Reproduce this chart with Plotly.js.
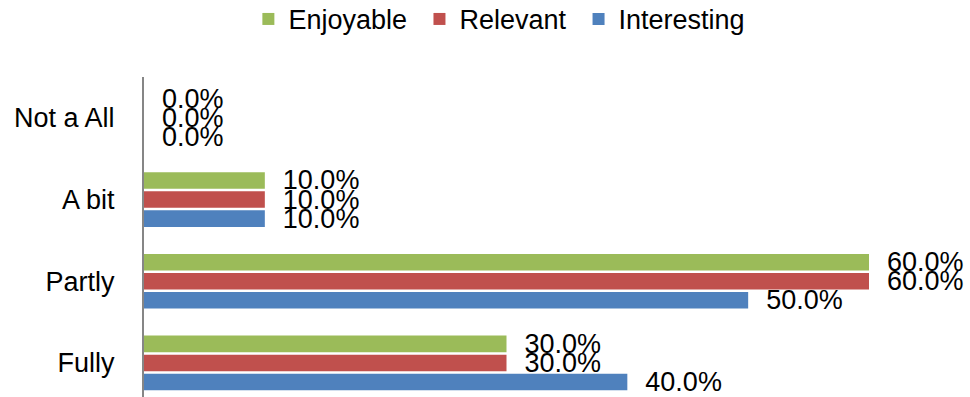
<!DOCTYPE html>
<html>
<head>
<meta charset="utf-8">
<script src="https://cdn.plot.ly/plotly-3.0.1.min.js"></script>
<style>html,body{margin:0;padding:0;background:#fff}#chart{width:970px;height:397px}</style>
</head>
<body>
<div id="chart"></div>
<script>
const categories = ['Fully', 'Partly', 'A bit', 'Not a All'];
const interesting = [0.40, 0.50, 0.10, 0.00];
const relevant = [0.30, 0.60, 0.10, 0.00];
const enjoyable = [0.30, 0.60, 0.10, 0.00];
const seriesNames = ['Interesting', 'Relevant', 'Enjoyable'];
const seriesColors = ['#4F81BD', '#C0504D', '#9BBB59'];
const seriesValues = [interesting, relevant, enjoyable];

const FONT = 'Liberation Sans, Arial, sans-serif';

const traces = seriesValues.map((vals, i) => ({
  type: 'bar',
  orientation: 'h',
  name: seriesNames[i] + '\u00a0',
  y: categories,
  x: vals,
  marker: {color: seriesColors[i], line: {width: 0}},
  texttemplate: '\u00a0\u00a0%{x:.1%}',
  textposition: 'outside',
  constraintext: 'none',
  cliponaxis: false,
  textfont: {family: FONT, size: 27, color: '#000'},
  hoverinfo: 'none'
}));

const layout = {
  width: 970,
  height: 397,
  margin: {l: 144, r: 101, t: 77, b: 0, pad: 0, autoexpand: false},
  paper_bgcolor: '#fff',
  plot_bgcolor: '#fff',
  barmode: 'group',
  bargap: 0.30,
  bargroupgap: 0.13,
  font: {family: FONT, size: 27, color: '#000'},
  showlegend: true,
  legend: {
    orientation: 'h',
    traceorder: 'reversed',
    x: 0.495, xref: 'paper', xanchor: 'center',
    y: 1.18, yref: 'paper', yanchor: 'middle',
    font: {family: FONT, size: 27, color: '#000'},
    itemwidth: 30
  },
  xaxis: {
    range: [0, 0.6],
    showgrid: false,
    zeroline: false,
    showticklabels: false,
    showline: false,
    ticks: ''
  },
  yaxis: {
    type: 'category',
    range: [-0.417, 3.5],
    showgrid: false,
    zeroline: false,
    showline: true,
    linecolor: '#868686',
    linewidth: 2,
    ticks: '',
    ticklabelstandoff: 22,
    automargin: false,
    tickfont: {family: FONT, size: 27, color: '#000'}
  }
};

Plotly.newPlot('chart', traces, layout, {displayModeBar: false, staticPlot: true});
</script>
</body>
</html>
